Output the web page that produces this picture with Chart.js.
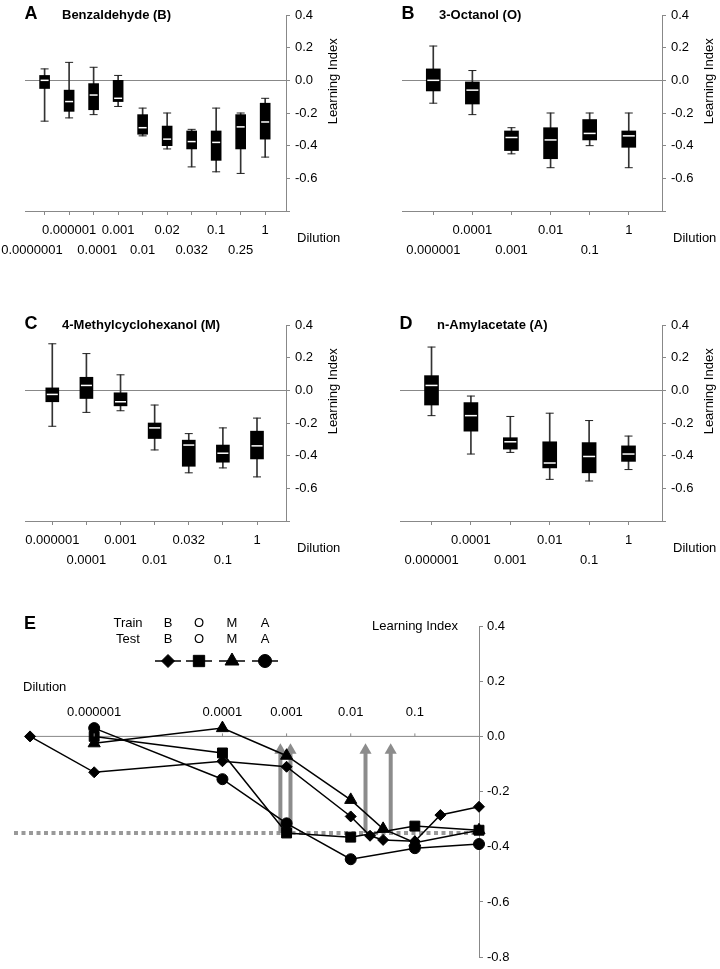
<!DOCTYPE html>
<html>
<head>
<meta charset="utf-8">
<script src="https://cdn.jsdelivr.net/npm/chart.js@4.4.1/dist/chart.umd.min.js"></script>
<style>
html, body { margin: 0; padding: 0; background: #fff; }
#wrap { position: relative; width: 720px; height: 969px; }
canvas { position: absolute; }
</style>
</head>
<body>
<div id="wrap">
  <canvas id="pA" width="360" height="280" style="left:0;top:0"></canvas>
  <canvas id="pB" width="360" height="280" style="left:360px;top:0"></canvas>
  <canvas id="pC" width="360" height="310" style="left:0;top:280px"></canvas>
  <canvas id="pD" width="360" height="310" style="left:360px;top:280px"></canvas>
  <canvas id="pE" width="720" height="379" style="left:0;top:590px"></canvas>
</div>
<script>
const FONT = "'Liberation Sans', Arial, sans-serif";

// A: Benzaldehyde (B)
const dilB = ['0.0000001', '0.000001', '0.0001', '0.001', '0.01', '0.02', '0.032', '0.1', '0.25', '1'];
const bHi  = [0.07, 0.11, 0.08, 0.03, -0.17, -0.20, -0.30, -0.17, -0.20, -0.11];
const bQ3  = [0.03, -0.06, -0.02, 0.00, -0.21, -0.28, -0.31, -0.31, -0.21, -0.14];
const bMed = [0.00, -0.13, -0.09, -0.11, -0.29, -0.36, -0.375, -0.38, -0.285, -0.255];
const bQ1  = [-0.05, -0.19, -0.18, -0.13, -0.33, -0.40, -0.42, -0.49, -0.42, -0.36];
const bLo  = [-0.25, -0.23, -0.21, -0.16, -0.34, -0.42, -0.53, -0.56, -0.57, -0.47];

// B: 3-Octanol (O)
const dilO = ['0.000001', '0.0001', '0.001', '0.01', '0.1', '1'];
const oHi  = [0.21, 0.06, -0.29, -0.20, -0.20, -0.20];
const oQ3  = [0.07, -0.01, -0.31, -0.29, -0.24, -0.31];
const oMed = [0.00, -0.06, -0.35, -0.365, -0.325, -0.34];
const oQ1  = [-0.065, -0.145, -0.43, -0.48, -0.365, -0.41];
const oLo  = [-0.14, -0.21, -0.45, -0.535, -0.40, -0.535];

// C: 4-Methylcyclohexanol (M)
const dilM = ['0.000001', '0.0001', '0.001', '0.01', '0.032', '0.1', '1'];
const mHi  = [0.285, 0.225, 0.095, -0.09, -0.265, -0.23, -0.17];
const mQ3  = [0.015, 0.08, -0.015, -0.20, -0.305, -0.335, -0.25];
const mMed = [-0.025, 0.03, -0.07, -0.23, -0.335, -0.385, -0.34];
const mQ1  = [-0.07, -0.05, -0.095, -0.295, -0.465, -0.44, -0.42];
const mLo  = [-0.22, -0.135, -0.125, -0.365, -0.505, -0.475, -0.53];

// D: n-Amylacetate (A)
const dilA = ['0.000001', '0.0001', '0.001', '0.01', '0.1', '1'];
const aHi  = [0.265, -0.035, -0.16, -0.14, -0.185, -0.28];
const aQ3  = [0.09, -0.075, -0.29, -0.315, -0.32, -0.34];
const aMed = [0.03, -0.155, -0.315, -0.445, -0.405, -0.39];
const aQ1  = [-0.09, -0.25, -0.36, -0.475, -0.505, -0.435];
const aLo  = [-0.155, -0.39, -0.38, -0.545, -0.555, -0.485];

// E: summary
const trainOdors = ['B', 'O', 'M', 'A'];
const testOdors = ['B', 'O', 'M', 'A'];
const eTickLabels = ['0.000001', '0.0001', '0.001', '0.01', '0.1'];
const thresholdLI = -0.35;
const arrowDil = [0.0008, 0.00115, 0.017, 0.042];
const arrowTipLI = -0.05;
const yTicksLI = [0.4, 0.2, 0.0, -0.2, -0.4, -0.6, -0.8];

const AXIS = '#888';

// shift a centred tick label sideways (px) by padding it with spaces, like the original's overlap fix
function nudge(label, px) {
  if (!px) return label;
  const pad = ' '.repeat(Math.round(Math.abs(px) * 2 / 3.6));
  return px < 0 ? label + pad : pad + label;
}

function boxPanel(id, p) {
  const el = document.getElementById(id);
  const W = el.width, H = el.height, a = p.area, n = p.labels.length;
  const idx = p.labels.map((_, i) => i);
  const caps = [];
  idx.forEach(i => { caps.push({ x: i, y: p.lo[i] }); caps.push({ x: i, y: p.hi[i] }); });
  const shift = p.shift || {};
  return new Chart(el, {
    type: 'bar',
    data: {
      datasets: [
        { type: 'line', data: idx.map(i => ({ x: i, y: p.med[i] })), showLine: false, pointStyle: 'line',
          pointRadius: p.bw / 2 - 1, pointBorderColor: '#fff', pointBorderWidth: 1.5, order: 0 },
        { type: 'bar', data: idx.map(i => ({ x: i, y: [p.q1[i], p.q3[i]] })), backgroundColor: '#000',
          barThickness: p.bw, grouped: false, order: 1 },
        { type: 'line', data: caps, showLine: false, pointStyle: 'line', pointRadius: 4,
          pointBorderColor: '#222', pointBorderWidth: 1, order: 2 },
        { type: 'bar', data: idx.map(i => ({ x: i, y: [p.lo[i], p.hi[i]] })), backgroundColor: '#333',
          barThickness: 1, grouped: false, order: 3 }
      ]
    },
    options: {
      responsive: false, animation: false, events: [],
      layout: { padding: { left: a.left, top: a.top, right: 0, bottom: 0 } },
      plugins: { legend: { display: false }, tooltip: { enabled: false },
        panelText: { letter: p.letter, title: p.title } },
      scales: {
        x: {
          type: 'linear', min: -0.8, max: n - 1 + 0.85, offset: false,
          afterBuildTicks: s => { s.ticks = idx.map(i => ({ value: i })); },
          afterFit: s => { s.height = H - a.bottom; s.paddingLeft = 0; s.paddingRight = 0; },
          ticks: { autoSkip: false, maxRotation: 0, padding: 5, color: '#000',
            font: { family: FONT, size: 13, lineHeight: '20px' },
            callback: (v, i) => {
              const t = nudge(p.labels[i], shift[i]);
              return i % 2 === p.parity ? [t, ''] : ['', t];
            } },
          grid: { drawOnChartArea: false, offset: false, tickLength: 4, color: AXIS },
          border: { color: AXIS }
        },
        y: {
          type: 'linear', position: 'right', min: -0.8, max: 0.4,
          afterFit: s => { s.width = W - a.right; s.paddingTop = 0; s.paddingBottom = 0; },
          ticks: { stepSize: 0.2, padding: 5, color: '#000', font: { family: FONT, size: 13 },
            callback: v => (Math.abs(v + 0.8) < 1e-6 ? '' : v.toFixed(1)) },
          grid: { tickLength: 4, tickColor: AXIS,
            color: c => (c.tick && Math.abs(c.tick.value) < 1e-9 ? AXIS : 'rgba(0,0,0,0)') },
          border: { color: AXIS }
        }
      }
    },
    plugins: [panelText]
  });
}

const panelText = {
  id: 'panelText',
  afterDraw(chart, args, o) {
    const { ctx, chartArea: a, scales: { y } } = chart;
    ctx.save();
    ctx.fillStyle = '#000';
    ctx.textBaseline = 'middle';
    ctx.font = `bold 18px ${FONT}`;
    ctx.textAlign = 'center';
    ctx.fillText(o.letter, a.left + 6, a.top - 1);
    ctx.font = `bold 13px ${FONT}`;
    ctx.textAlign = 'left';
    ctx.fillText(o.title, a.left + 37, a.top);
    ctx.font = `13px ${FONT}`;
    ctx.fillText('Dilution', a.right + 11, a.bottom + 27);
    ctx.translate(a.right + 47, y.getPixelForValue(0) + 1);
    ctx.rotate(-Math.PI / 2);
    ctx.textAlign = 'center';
    ctx.fillText('Learning Index', 0, 0);
    ctx.restore();
  }
};

boxPanel('pA', { labels: dilB, lo: bLo, q1: bQ1, med: bMed, q3: bQ3, hi: bHi, bw: 10, parity: 1,
  shift: { 0: -12, 2: 4 },
  letter: 'A', title: 'Benzaldehyde (B)', area: { left: 25, top: 15, right: 286, bottom: 211 } });
boxPanel('pB', { labels: dilO, lo: oLo, q1: oQ1, med: oMed, q3: oQ3, hi: oHi, bw: 14, parity: 1,
  letter: 'B', title: '3-Octanol (O)', area: { left: 42, top: 15, right: 302, bottom: 211 } });
boxPanel('pC', { labels: dilM, lo: mLo, q1: mQ1, med: mMed, q3: mQ3, hi: mHi, bw: 13, parity: 0,
  letter: 'C', title: '4-Methylcyclohexanol (M)', area: { left: 25, top: 45, right: 286, bottom: 241 } });
boxPanel('pD', { labels: dilA, lo: aLo, q1: aQ1, med: aMed, q3: aQ3, hi: aHi, bw: 14, parity: 1,
  letter: 'D', title: 'n-Amylacetate (A)', area: { left: 40, top: 45, right: 302, bottom: 241 } });

// Panel E
const series = [
  { dil: dilB, med: bMed, style: 'rectRot', r: 5.5 },
  { dil: dilO, med: oMed, style: 'rect', r: 7 },
  { dil: dilM, med: mMed, style: 'triangle', r: 7 },
  { dil: dilA, med: aMed, style: 'circle', r: 5.5 }
];
const legendX = [168, 199, 232, 265];
const xMinE = Math.pow(10, -7.25);

const eSets = series.map(s => ({
  data: s.dil.map((d, i) => ({ x: Number(d), y: s.med[i] })),
  borderColor: '#000', borderWidth: 1.5, pointStyle: s.style, pointRadius: s.r,
  pointBackgroundColor: '#000', pointBorderColor: '#000', pointBorderWidth: 1, order: 0, clip: false
}));
arrowDil.forEach(d => eSets.push({
  data: [{ x: d, y: thresholdLI }, { x: d, y: arrowTipLI }],
  borderColor: '#8c8c8c', borderWidth: 4, pointStyle: 'triangle', pointRadius: [0, 7],
  pointBackgroundColor: '#8c8c8c', pointBorderWidth: 0, order: 1, clip: false
}));
eSets.push({ data: [{ x: xMinE, y: thresholdLI }, { x: 1, y: thresholdLI }], borderColor: '#999',
  borderWidth: 4, borderDash: [4, 3.5], pointRadius: 0, order: 2, clip: false });
eSets.push({ data: [{ x: Number(dilB[0]), y: 0 }, { x: 1, y: 0 }], borderColor: AXIS,
  borderWidth: 1, pointRadius: 0, order: 3, clip: false });

const panelE = {
  id: 'panelE',
  afterDraw(chart) {
    const { ctx, chartArea: a, scales: { x, y } } = chart;
    const y0 = y.getPixelForValue(0);
    const dp = Chart.helpers && Chart.helpers.drawPoint;
    ctx.save();
    ctx.fillStyle = '#000';
    ctx.textBaseline = 'middle';
    ctx.font = `bold 18px ${FONT}`;
    ctx.textAlign = 'center';
    ctx.fillText('E', 30, 34);
    ctx.font = `13px ${FONT}`;
    ctx.fillText('Train', 128, 33);
    ctx.fillText('Test', 128, 49);
    series.forEach((s, i) => {
      const lx = legendX[i];
      ctx.fillStyle = '#000';
      ctx.fillText(trainOdors[i], lx, 33);
      ctx.fillText(testOdors[i], lx, 49);
      ctx.strokeStyle = '#000';
      ctx.lineWidth = 1.5;
      ctx.beginPath(); ctx.moveTo(lx - 13, 71); ctx.lineTo(lx + 13, 71); ctx.stroke();
      if (dp) {
        ctx.lineWidth = 1;
        dp(ctx, { pointStyle: s.style, radius: s.r + 1, rotation: 0, borderWidth: 1 }, lx, 71);
      }
    });
    ctx.fillStyle = '#000';
    ctx.textAlign = 'left';
    ctx.fillText('Dilution', 23, 97);
    ctx.textAlign = 'right';
    ctx.fillText('Learning Index', a.right - 21, a.top);
    ctx.textAlign = 'center';
    ctx.strokeStyle = AXIS;
    ctx.lineWidth = 1;
    eTickLabels.forEach(t => {
      const px = x.getPixelForValue(Number(t));
      ctx.fillText(t, px, y0 - 24);
      ctx.beginPath(); ctx.moveTo(px, y0); ctx.lineTo(px, y0 - 3); ctx.stroke();
    });
    ctx.restore();
  }
};

new Chart(document.getElementById('pE'), {
  type: 'line',
  data: { datasets: eSets },
  options: {
    responsive: false, animation: false, events: [],
    elements: { line: { tension: 0 } },
    layout: { padding: { left: 14, top: 36, right: 0, bottom: 8 } },
    plugins: { legend: { display: false }, tooltip: { enabled: false } },
    scales: {
      x: { type: 'logarithmic', min: xMinE, max: 1, display: false },
      y: {
        type: 'linear', position: 'right', min: -0.8, max: 0.4,
        afterFit: s => { s.width = 720 - 479; },
        afterBuildTicks: s => { s.ticks = yTicksLI.map(v => ({ value: v })); },
        ticks: { padding: 4, color: '#000', font: { family: FONT, size: 13 }, callback: v => v.toFixed(1) },
        grid: { drawOnChartArea: false, tickLength: 4, color: AXIS },
        border: { color: AXIS }
      }
    }
  },
  plugins: [panelE]
});
</script>
</body>
</html>
